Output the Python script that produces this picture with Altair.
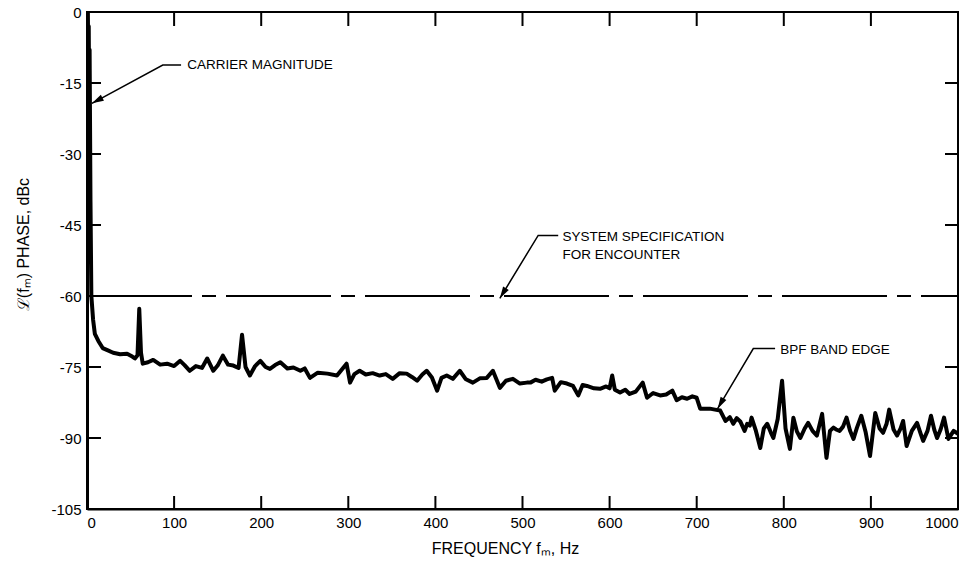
import altair as alt
import pandas as pd

# ---- data ----
freq = [0, 0.5, 1, 1.5, 2, 2.5, 3, 4, 5, 7, 9, 13, 18, 24, 30, 38, 46, 52, 55, 58, 60, 62, 64, 70, 76, 84, 92,
        100, 107, 112, 118, 125, 132, 138, 145, 150, 156, 162, 168, 174, 178, 182, 187, 193, 199,
        205, 210, 216, 222, 230, 237, 245, 250, 256, 265, 276, 287, 298, 302, 307, 313, 320, 328,
        336, 343, 351, 359, 367, 373, 379, 385, 390, 396, 402, 407, 413, 420, 428, 435, 443, 451,
        459, 466, 474, 481, 489, 497, 505, 509, 515, 522, 528, 534, 537, 544, 551, 558, 564, 569,
        574, 582, 589, 596, 600, 603, 606, 612, 618, 623, 630, 638, 643, 650, 658, 665, 672, 677,
        683, 689, 695, 700, 704, 710, 715, 721, 727, 733, 738, 742, 746, 750, 755, 758, 761, 763,
        768, 773, 777, 781, 785, 788, 793, 798, 802, 807, 811, 815, 819, 824, 828, 833, 838, 844,
        849, 853, 857, 860, 864, 868, 872, 876, 880, 884, 889, 894, 899, 905, 910, 914, 918, 921,
        926, 930, 934, 937, 941, 947, 953, 957, 960, 965, 969, 973, 976, 980, 984, 989, 995, 1000]
level = [-58, -5, 0, -12, -3, -20, -8, -40, -60, -65, -68, -69.5, -71, -71.5, -72, -72.3, -72.2, -72.8,
         -73.2, -72.5, -62.7, -72, -74.3, -74, -73.5, -74.5, -74.3,
         -74.8, -73.7, -74.6, -75.8, -74.8, -75.2, -73.2, -75.8, -74.7, -72.6, -74.5, -74.7, -75.2,
         -68.2, -75, -76.8, -74.8, -73.7,
         -75, -75.4, -74.6, -74, -75.3, -75.1, -75.8, -75.3, -77.3, -76.2, -76.4, -76.8, -74.3,
         -78.3, -76.5, -75.8, -76.6, -76.3,
         -76.8, -76.5, -77.5, -76.3, -76.4, -77.1, -77.9, -76.6, -75.8, -77.2, -80, -77.3, -76.8,
         -77.5, -75.8, -77.6, -78.3, -77.4,
         -77.3, -75.8, -79.4, -77.9, -77.5, -78.5, -78.3, -78.3, -77.7, -78.1, -77.6, -77.3, -80,
         -78.2, -78.5, -79, -81, -78.8,
         -79, -79.5, -79.6, -79.1, -79.5, -76.8, -79.8, -80.4, -79.8, -80.7, -80.2, -78.3, -81.5,
         -80.5, -81, -80.8, -80, -82,
         -81.4, -81.7, -81.2, -81.5, -83.8, -83.8, -83.8, -84, -84.2, -86.4, -85.6, -87, -85.8,
         -86.5, -88.5, -87, -87.4, -85.7,
         -88.5, -92.1, -88, -87, -88.8, -90, -86, -77.9, -88, -92.3, -85.7, -88.6, -90, -88,
         -86.8, -88.5, -89.5, -84.9,
         -94.2, -88.5, -87.8, -88.2, -88.5, -87.6, -85.7, -88.4, -90.2, -87.8, -85.3, -88.8,
         -93.8, -84.7, -88, -88.9, -87, -84,
         -88.2, -89.5, -88, -86.4, -91.7, -88.5, -86.8, -89, -90.6, -88.5, -85.3, -88.4, -90,
         -88.2, -85.7, -90.2, -88.5, -89.1]

x_tick_values = [0, 100, 200, 300, 400, 500, 600, 700, 800, 900, 1000]
y_tick_values = [0, -15, -30, -45, -60, -75, -90, -105]
inner_x_ticks = [100, 200, 300, 400, 500, 600, 700, 800, 900]
inner_y_ticks = [-15, -30, -45, -60, -75, -90]
spec_level = [-60]

ann_text = ["CARRIER MAGNITUDE", "SYSTEM SPECIFICATION", "FOR ENCOUNTER", "BPF BAND EDGE"]
ann_f = [115, 546, 546, 796]
ann_db = [-11.2, -47.6, -51.4, -71.5]

leader_id = ["c", "c", "c", "s", "s", "s", "b", "b", "b"]
leader_f = [108, 87, 5.7, 541, 518, 474, 790, 765, 724]
leader_db = [-11.2, -11.2, -19.3, -47.2, -47.2, -60.5, -71.1, -71.1, -83.8]

arrow_f = [5.7, 474, 724]
arrow_db = [-19.3, -60.5, -83.8]
arrow_angle = [242, 211, 210]

W, H = 871, 497
FONT = "Liberation Sans"

trace = pd.DataFrame({"f": freq, "db": level})
xt = pd.DataFrame({"f": inner_x_ticks})
yt = pd.DataFrame({"db": inner_y_ticks})
spec = pd.DataFrame({"db": spec_level})
ann = pd.DataFrame({"f": ann_f, "db": ann_db, "t": ann_text})
lead = pd.DataFrame({"id": leader_id, "f": leader_f, "db": leader_db, "o": list(range(len(leader_f)))})
arr = pd.DataFrame({"f": arrow_f, "db": arrow_db, "a": arrow_angle})

xs = alt.Scale(domain=[0, 1000], nice=False, zero=False)
ys = alt.Scale(domain=[-105, 0], nice=False, zero=False)

x_axis = alt.Axis(values=x_tick_values, ticks=False, tickSize=0, grid=False, labelFlush=True,
                  labelExpr="format(datum.value, 'd')",
                  domainColor="black", domainWidth=2, labelFontSize=15, labelPadding=6,
                  labelColor="black", labelFont=FONT,
                  title="FREQUENCY fₘ, Hz", titleFont=FONT, titleFontSize=16,
                  titleFontWeight="normal", titleColor="black", titleX=418, titleY=39,
                  titleAlign="center", titleBaseline="middle")
y_axis = alt.Axis(values=y_tick_values, ticks=False, tickSize=0, grid=False,
                  labelExpr="datum.value == 0 ? '0' : '-' + format(-datum.value, 'd')",
                  domainColor="black", domainWidth=3, labelFontSize=15, labelPadding=6,
                  labelColor="black", labelFont=FONT,
                  title="ℒ(fₘ) PHASE, dBc", titleFont=FONT, titleFontSize=16,
                  titleFontWeight="normal", titleColor="black", titleX=-64, titleY=232,
                  titleAngle=270, titleAlign="center", titleBaseline="middle")


def X():
    return alt.X("f:Q", scale=xs, axis=x_axis)


def Y():
    return alt.Y("db:Q", scale=ys, axis=y_axis)


line = alt.Chart(trace).mark_line(color="black", strokeWidth=4, strokeJoin="round",
                                  clip=True).encode(x=X(), y=Y(), order="f:Q")

spec_rule = alt.Chart(spec).mark_rule(color="black", strokeWidth=2,
                                      strokeDash=[105, 10, 14, 10]).encode(
    y=Y(), x=alt.value(0), x2=alt.value(W))

bottom_ticks = alt.Chart(xt).mark_rule(color="black", strokeWidth=2).encode(
    x=X(), y=alt.value(H), y2=alt.value(H - 13))
top_ticks = alt.Chart(xt).mark_rule(color="black", strokeWidth=2).encode(
    x=X(), y=alt.value(0), y2=alt.value(14))
left_ticks = alt.Chart(yt).mark_rule(color="black", strokeWidth=2).encode(
    y=Y(), x=alt.value(0), x2=alt.value(14))
right_ticks = alt.Chart(yt).mark_rule(color="black", strokeWidth=2).encode(
    y=Y(), x=alt.value(W), x2=alt.value(W - 13))

leaders = alt.Chart(lead).mark_line(color="black", strokeWidth=1.5).encode(
    x=X(), y=Y(), detail="id:N", order="o:Q")

arrows = alt.Chart(arr).mark_point(shape="M0,0 L0.28,1 L-0.28,1 Z", filled=True, color="black",
                                   size=560, opacity=1).encode(
    x=X(), y=Y(), angle=alt.Angle("a:Q", scale=None))

texts = alt.Chart(ann).mark_text(align="left", baseline="middle", fontSize=13.5, font=FONT,
                                 color="black").encode(x=X(), y=Y(), text="t:N")

chart = alt.layer(line, spec_rule, bottom_ticks, top_ticks, left_ticks, right_ticks,
                  leaders, arrows, texts).properties(
    width=W, height=H,
    autosize=alt.AutoSizeParams(type="none"),
    padding={"left": 87, "top": 12, "right": 5, "bottom": 62},
    background="white",
).configure_view(stroke="black", strokeWidth=2)

chart.save("out.html", embed_options={"renderer": "svg", "actions": False})
